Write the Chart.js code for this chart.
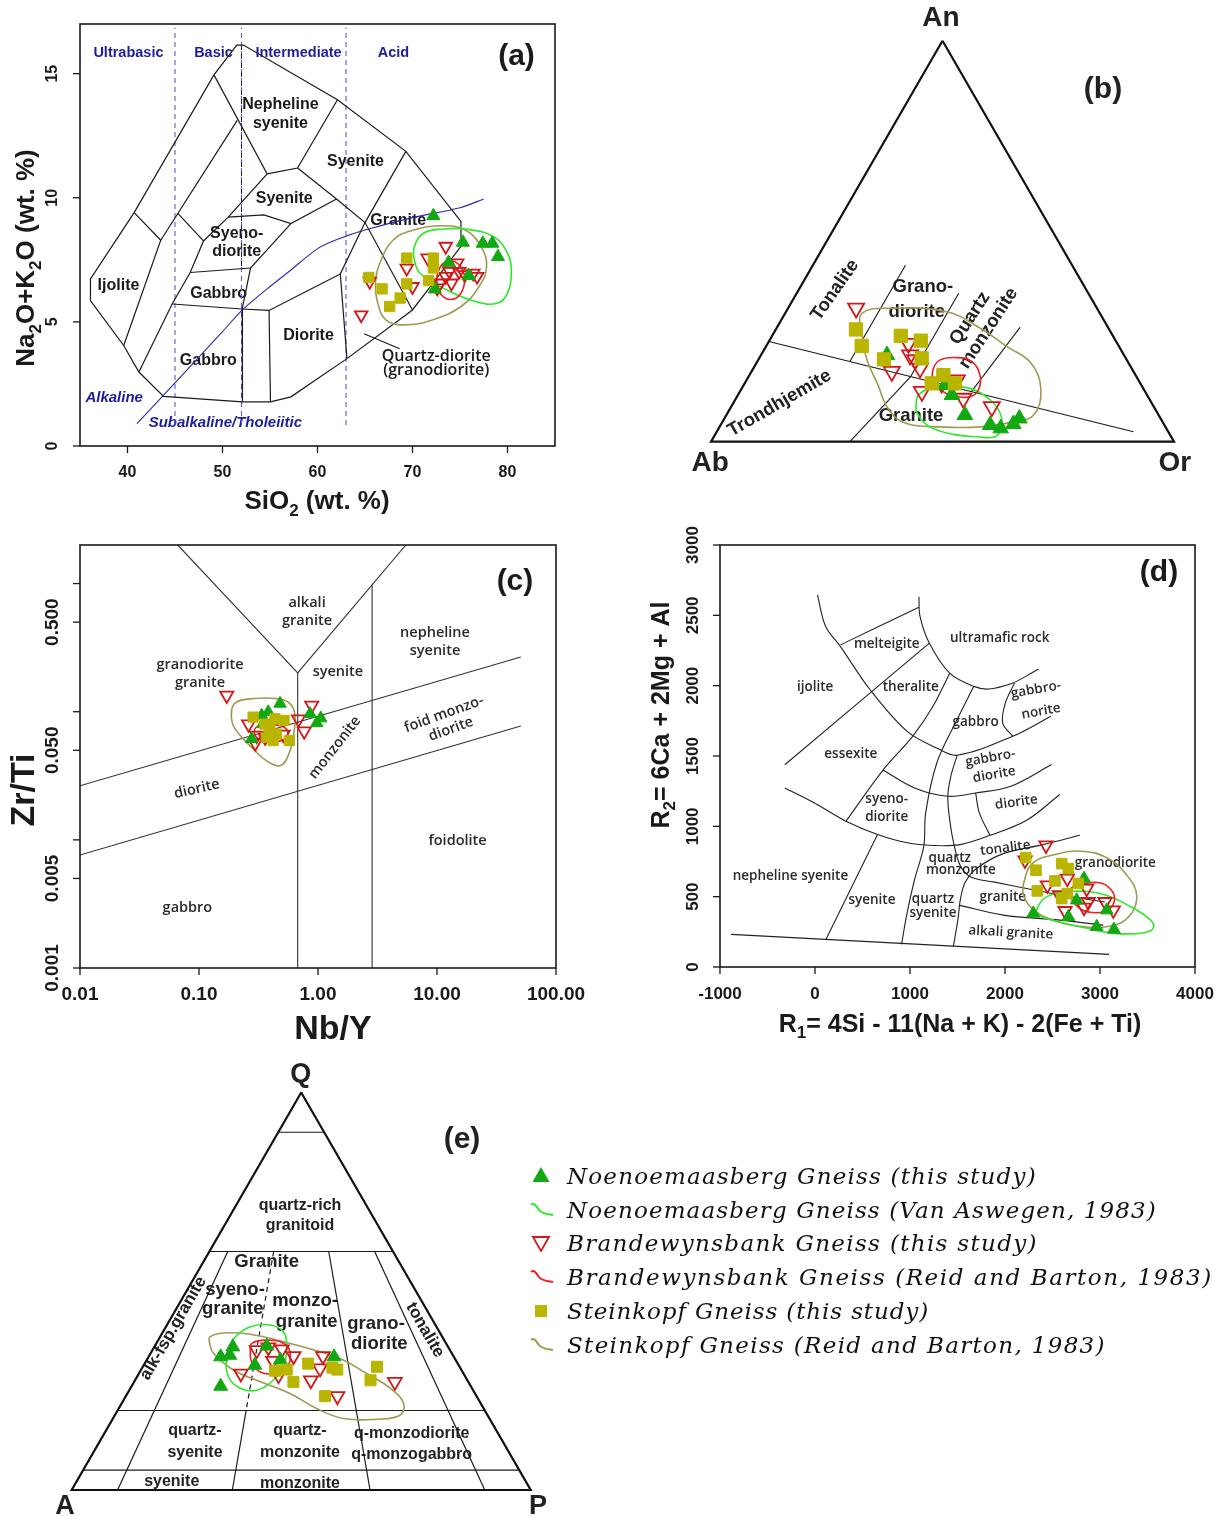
<!DOCTYPE html>
<html><head><meta charset="utf-8"><title>Geochemical classification diagrams</title>
<script src="https://cdn.jsdelivr.net/npm/chart.js@4.4.1/dist/chart.umd.min.js"></script>
<style>
html,body{margin:0;padding:0;background:#fff;}
body{width:1221px;height:1517px;position:relative;overflow:hidden;}
canvas{position:absolute;display:block;}
.lrow{position:absolute;left:528px;height:34px;width:690px;}
.lrow svg{position:absolute;left:0;top:0;}
.lrow span{position:absolute;left:39px;top:0;line-height:34px;white-space:nowrap;font-family:"DejaVu Serif",serif;font-style:italic;font-size:23px;color:#111;}
</style></head><body>
<canvas id="ca" width="600" height="520" style="left:0;top:0"></canvas>
<canvas id="cb" width="601" height="520" style="left:620px;top:0"></canvas>
<canvas id="cc" width="600" height="540" style="left:0;top:520px"></canvas>
<canvas id="cd" width="601" height="540" style="left:620px;top:520px"></canvas>
<canvas id="ce" width="560" height="457" style="left:0;top:1060px"></canvas>
<div id="legend">
 <div class="lrow" style="top:1159px"><svg width="30" height="34"><polygon points="13,8 21.5,23 4.5,23" fill="#12a812"/></svg><span data-w="470">Noenoemaasberg Gneiss (this study)</span></div>
 <div class="lrow" style="top:1193px"><svg width="30" height="34"><path d="M3,12 C6,9 8,13 11,17 C14,21 19,21 25,22" stroke="#2de82d" stroke-width="2" fill="none"/></svg><span data-w="590">Noenoemaasberg Gneiss (Van Aswegen, 1983)</span></div>
 <div class="lrow" style="top:1226px"><svg width="30" height="34"><polygon points="5,11 21,11 13,25" stroke="#d01818" stroke-width="1.8" fill="none"/></svg><span data-w="471">Brandewynsbank Gneiss (this study)</span></div>
 <div class="lrow" style="top:1260px"><svg width="30" height="34"><path d="M3,12 C6,9 8,13 11,17 C14,21 19,21 25,22" stroke="#ee2020" stroke-width="2" fill="none"/></svg><span data-w="646">Brandewynsbank Gneiss (Reid and Barton, 1983)</span></div>
 <div class="lrow" style="top:1294px"><svg width="30" height="34"><rect x="7" y="11" width="12" height="12" fill="#b9b500"/></svg><span data-w="362">Steinkopf Gneiss (this study)</span></div>
 <div class="lrow" style="top:1328px"><svg width="30" height="34"><path d="M3,12 C6,9 8,13 11,17 C14,21 19,21 25,22" stroke="#9f9a52" stroke-width="2" fill="none"/></svg><span data-w="539">Steinkopf Gneiss (Reid and Barton, 1983)</span></div>
</div>
<script>
// ================= DATA =================
// ---- (a) TAS: SiO2 vs Na2O+K2O (wt.%) ----
const aNoeSiO2 = [72.2, 75.3, 77.4, 78.4, 79.0, 73.8, 75.9, 72.35];
const aNoeAlk  = [9.27, 8.2, 8.16, 8.16, 7.62, 7.39, 6.86, 6.32];
const aBraSiO2 = [64.6, 65.5, 69.4, 70.0, 71.6, 73.5, 72.9, 73.9, 74.7, 74.9, 74.1, 75.5, 76.4, 76.8, 73.5, 72.6];
const aBraAlk  = [5.28, 6.63, 7.16, 6.42, 7.57, 8.04, 6.56, 7.03, 7.37, 7.03, 6.56, 6.9, 6.96, 6.83, 6.83, 6.36];
const aSteSiO2 = [65.4, 66.8, 67.6, 68.7, 69.4, 69.4, 71.7, 72.2, 72.2];
const aSteAlk  = [6.79, 6.33, 5.62, 5.96, 7.57, 6.53, 6.66, 7.57, 7.17];
const aEnvNoeSiO2 = [70.2, 71.2, 73.25, 75.5, 78.5, 80.0, 80.4, 80.0, 78.9, 76.6, 73.6, 70.8, 70.2];
const aEnvNoeAlk  = [8.04, 8.58, 8.74, 8.74, 8.44, 7.77, 7.10, 6.16, 5.75, 5.82, 6.29, 6.96, 7.5];
const aEnvBraSiO2 = [72.6, 73.2, 74.2, 75.1, 75.5, 75.0, 74.0, 73.0, 72.6];
const aEnvBraAlk  = [6.9, 7.35, 7.45, 7.2, 6.7, 6.1, 5.9, 6.1, 6.5];
const aEnvSteSiO2 = [66.5, 68.0, 70.2, 72.9, 75.5, 77.2, 77.8, 77.0, 75.1, 72.1, 69.1, 67.2, 66.3, 66.1];
const aEnvSteAlk  = [7.30, 8.31, 8.71, 8.87, 8.71, 8.04, 7.23, 6.42, 5.62, 5.08, 4.88, 5.08, 5.82, 6.56];
const aFieldLines = [
  [[36.1,5.86],[36.1,6.73],[40.7,9.40],[49.1,14.95],[51.5,16.15],[52.2,16.15],[62.1,13.95],[69.3,11.87],[75.1,9.05],[75.1,8.04],[70.0,5.48],[63.1,3.52],[57.2,1.98],[55.05,1.78],[52.1,1.78],[43.8,2.0],[41.2,2.98],[39.6,4.05],[36.1,5.86]],
  [[40.7,9.40],[43.5,8.29],[39.6,4.05]],
  [[43.5,8.29],[51.55,13.12]],
  [[41.2,2.98],[44.7,5.72],[46.6,6.99],[48.0,8.26],[50.6,9.22],[54.7,10.96],[49.1,14.95]],
  [[45.3,9.37],[48.0,8.26]],
  [[54.7,10.96],[57.9,11.2],[62.1,13.95]],
  [[57.9,11.2],[62.0,9.95],[65.0,9.0],[70.0,5.48]],
  [[69.3,11.87],[65.0,9.0],[62.4,6.93],[63.1,3.52]],
  [[50.6,9.22],[54.35,9.31],[57.2,8.96],[62.0,9.95]],
  [[57.2,8.96],[52.95,7.17],[52.07,5.52],[52.1,1.78]],
  [[46.6,6.99],[52.95,7.17]],
  [[44.7,5.72],[52.07,5.52],[54.9,5.46],[62.4,6.93]],
  [[54.9,5.46],[55.05,1.78]],
  [[64.9,4.52],[68.65,3.92]]
];
const aAlkLineSiO2 = [41.0, 43.8, 46.0, 48.0, 50.0, 52.2, 54.7, 57.0, 60.1, 62.4, 65.0, 70.0, 75.0, 77.5];
const aAlkLineAlk  = [0.9, 2.05, 2.96, 3.78, 4.61, 5.52, 6.33, 7.03, 7.97, 8.37, 8.7, 9.2, 9.6, 9.95];
const aSilicaDivides = [45, 52, 63];
const aXTicks = [40, 50, 60, 70, 80];
const aYTicks = [0, 5, 10, 15];

// ---- (b) An-Ab-Or (normative feldspar, %) ----
const bBraAn = [33.3, 17.5, 24.5, 21.6, 20.4, 18.3, 12.5, 14.6, 15.4, 10.8, 8.7];
const bBraOr = [14.7, 30.3, 30.4, 32.2, 33.9, 36.0, 39.3, 42.5, 45.4, 49.1, 56.3];
const bNoeAn = [21.6, 14.1, 11.65, 6.66, 4.16, 3.33, 4.4, 5.8];
const bNoeOr = [27.2, 43.5, 46.2, 51.5, 58.2, 60.9, 63.1, 63.7];
const bSteAn = [28.0, 23.9, 26.4, 25.2, 20.8, 20.55, 14.56, 16.6, 14.56];
const bSteOr = [17.3, 20.6, 27.8, 32.7, 35.1, 27.1, 40.4, 41.9, 45.4];
const bEnvSteAn = [32.0, 33.3, 32.4, 28.3, 23.7, 19.6, 12.9, 6.7, 5.0, 3.7, 3.7, 4.6, 7.9, 14.6, 20.4, 27.0];
const bEnvSteOr = [16.6, 22.5, 34.7, 44.0, 52.1, 59.3, 64.8, 66.4, 62.9, 56.3, 47.5, 39.8, 34.5, 28.6, 23.5, 19.1];
const bEnvBraAn = [18.3, 20.4, 21.0, 20.0, 16.6, 12.9, 11.2, 11.4, 12.5, 15.4];
const bEnvBraOr = [38.9, 39.3, 42.2, 46.3, 49.8, 51.3, 50.3, 47.0, 43.9, 40.3];
const bEnvNoeAn = [11.7, 13.3, 13.7, 13.3, 10.4, 7.1, 3.7, 1.25, 1.25, 1.7, 3.7, 7.1, 9.6];
const bEnvNoeOr = [39.0, 40.7, 44.8, 49.3, 55.1, 58.9, 60.9, 60.7, 56.8, 52.2, 45.4, 41.0, 39.5];
// field boundaries as [An, Or] pairs
const bFieldLines = [
  [[25, 0], [2.5, 90]],
  [[20, 20], [44, 20]],
  [[16.25, 35], [37, 35]],
  [[12.5, 50], [28.5, 52.5]],
  [[16.25, 35], [0, 30]]
];
const bOutline = [[100, 0], [0, 0], [0, 100], [100, 0]];

// ---- (c) Nb/Y vs Zr/Ti ----
const cBraNbY = [0.171, 0.261, 0.305, 0.297, 0.51, 0.885, 0.685, 0.766, 0.36];
const cBraZrTi = [0.134, 0.080, 0.0652, 0.0570, 0.0664, 0.112, 0.0873, 0.0705, 0.063];
const cNoeNbY = [0.48, 0.336, 0.382, 0.345, 0.857, 1.055, 0.976, 0.277];
const cNoeZrTi = [0.1157, 0.0935, 0.0995, 0.0805, 0.0964, 0.089, 0.0815, 0.0614];
const cSteNbY = [0.285, 0.435, 0.519, 0.395, 0.448, 0.368, 0.42, 0.574, 0.358];
const cSteZrTi = [0.0908, 0.0881, 0.0855, 0.0735, 0.067, 0.0631, 0.0595, 0.0595, 0.080];
const cEnvSteNbY = [0.188, 0.207, 0.285, 0.448, 0.582, 0.641, 0.62, 0.562, 0.48, 0.368, 0.285, 0.236, 0.194];
const cEnvSteZrTi = [0.1026, 0.119, 0.1265, 0.1265, 0.1157, 0.0935, 0.0652, 0.0454, 0.0379, 0.0415, 0.0513, 0.0614, 0.078];
const cEnvBraNbY = [0.30, 0.38, 0.50, 0.56, 0.50, 0.38, 0.30];
const cEnvBraZrTi = [0.075, 0.079, 0.077, 0.068, 0.060, 0.058, 0.064];
const cFieldLines = [
  [[0.0663, 2.0], [0.675, 0.201], [5.47, 2.0]],
  [[0.675, 0.201], [0.675, 0.001]],
  [[2.85, 0.977], [2.85, 0.001]],
  [[0.01, 0.0264], [50.6, 0.267]],
  [[0.01, 0.00762], [50.6, 0.0774]]
];
const cXTicks = [0.01, 0.1, 1, 10, 100];
const cXTickLabels = ['0.01', '0.10', '1.00', '10.00', '100.00'];
const cYTicks = [0.001, 0.005, 0.01, 0.05, 0.1, 0.5, 1];
const cYTickLabels = [[0.001, '0.001'], [0.005, '0.005'], [0.05, '0.050'], [0.5, '0.500']];

// ---- (d) R1-R2 ----
const dBraR1 = [2432, 2211, 2656, 2446, 2572, 2860, 2877, 2832, 3053, 3140, 2632];
const dBraR2 = [865, 759, 629, 582, 511, 558, 463, 423, 463, 404, 399];
const dNoeR1 = [2832, 2755, 3071, 2298, 2667, 2965, 3147];
const dNoeR2 = [629, 475, 404, 381, 357, 286, 267];
const dSteR1 = [2218, 2326, 2597, 2667, 2526, 2772, 2340, 2656, 2597];
const dSteR2 = [778, 688, 735, 700, 612, 594, 541, 522, 487];
const dEnvSteR1 = [2198, 2295, 2530, 2802, 3075, 3290, 3387, 3310, 3114, 2763, 2490, 2295, 2198];
const dEnvSteR2 = [599, 740, 800, 823, 776, 646, 504, 362, 291, 291, 338, 409, 504];
const dEnvNoeR1 = [2334, 2451, 2724, 3036, 3310, 3524, 3563, 3465, 3153, 2841, 2530, 2373];
const dEnvNoeR2 = [409, 504, 539, 516, 433, 338, 279, 244, 239, 279, 327, 362];
const dEnvBraR1 = [2685, 2802, 2997, 3114, 3153, 3095, 2958, 2802, 2705];
const dEnvBraR2 = [551, 587, 599, 551, 480, 409, 386, 409, 480];
const dFieldLines = [
  [[26,2645],[112,2420],[268,2278],[580,1971],[970,1675],[1282,1557],[1496,1505],[2081,1640],[2483,1782]],
  [[1094,2633],[1106,2491],[1204,2302],[1418,2089],[1672,1995],[1828,1976],[2062,2013],[2218,2066],[2354,2118]],
  [[268,2290],[1094,2558]],
  [[1204,2302],[-318,1438]],
  [[1418,2089],[1242,1853],[1028,1640],[716,1400],[326,1036]],
  [[1672,1995],[1477,1734],[1282,1450],[1165,1096],[1145,859],[1048,622],[970,386],[911,161]],
  [[2100,2018],[2003,1876],[1976,1734],[2081,1640]],
  [[1496,1505],[1430,1356],[1398,1214],[1418,1048],[1460,880],[1530,720],[1640,640],[1877,605],[2228,558],[2579,511],[2877,480],[3050,462]],
  [[716,1400],[1048,1273],[1398,1214],[1691,1237],[2062,1285],[2490,1439]],
  [[-318,1273],[-6,1166],[326,1036],[658,942],[970,883],[1242,864],[1526,870],[1842,936],[2228,1043],[2576,1226]],
  [[1691,1237],[1730,1096],[1842,936]],
  [[2789,936],[2400,870],[1982,806],[1700,700],[1580,600],[1530,480],[1505,340],[1457,149]],
  [[1515,440],[1982,369],[2579,333],[3035,298]],
  [[658,942],[112,192]],
  [[-883,232],[3095,90]]
];
const dXTicks = [-1000, 0, 1000, 2000, 3000, 4000];
const dYTicks = [0, 500, 1000, 1500, 2000, 2500, 3000];

// ---- (e) QAP (%) ----
const eNoeQ = [36.0, 33.5, 33.9, 36.2, 31.4, 32.7, 33.5, 26.1];
const eNoeP = [17.1, 15.7, 17.5, 24.4, 24.2, 29.1, 40.4, 19.4];
const eBraQ = [35.2, 35.9, 35.4, 33.7, 33.7, 29.3, 32.5, 28.9, 27.6, 30.6, 23.6, 27.2];
const eBraP = [22.7, 24.9, 28.1, 31.5, 37.9, 22.2, 27.6, 30.6, 38.3, 38.8, 46.1, 56.8];
const eSteQ = [30.0, 30.3, 27.2, 31.8, 30.8, 30.3, 23.6, 27.6, 31.0];
const eSteP = [29.3, 31.7, 34.7, 35.6, 41.4, 42.7, 43.4, 51.3, 51.0];
const eEnvNoeQ = [38.1, 41.0, 41.5, 39.8, 36.4, 31.0, 27.6, 25.1, 25.6, 28.5, 33.5, 36.9];
const eEnvNoeP = [16.2, 18.3, 22.5, 26.2, 28.6, 30.6, 30.1, 27.7, 23.9, 19.9, 17.0, 16.4];
const eEnvSteQ = [38.5, 39.5, 39.2, 37.3, 35.0, 32.7, 29.3, 25.6, 21.8, 18.8, 17.8, 18.0, 20.5, 24.3, 27.6, 30.2, 34.4, 36.9];
const eEnvSteP = [10.9, 13.3, 19.3, 27.5, 35.9, 42.8, 49.6, 56.6, 61.4, 62.1, 57.6, 50.2, 43.1, 35.4, 26.5, 20.1, 13.7, 11.6];
const eEnvBraQ = [36.9, 37.7, 36.9, 34.4, 31.0, 29.3, 29.7, 32.2, 35.2];
const eEnvBraP = [20.8, 23.6, 27.7, 30.4, 31.4, 29.3, 26.2, 23.1, 21.3];
// field boundaries as [Q, P] pairs
const eFieldLines = [
  [[90, 0], [90, 10]],
  [[60, 0], [60, 40]],
  [[20, 0], [20, 80]],
  [[5, 0], [5, 95]],
  [[60, 4], [0, 10]],
  [[20, 28], [0, 35]],
  [[60, 26], [0, 65]],
  [[60, 36], [0, 90]]
];
const eDashedLines = [[[60, 14], [20, 28]]];
const eOutline = [[100, 0], [0, 0], [0, 100], [100, 0]];

// ================= STYLE & HELPERS =================
const GREEN = '#12a812', RED = '#d01818', YEL = '#b9b500';
const ENV_G = '#2de82d', ENV_R = '#ee2020', ENV_O = '#9f9a52';
const INK = '#1a1a1a', BLUE = '#1e1e9c';
const SANS = '"Liberation Sans", Arial, sans-serif';
const SANS2 = '"Open Sans", "Liberation Sans", sans-serif';
const R3 = Math.sqrt(3) / 2;

const xy = (xs, ys) => xs.map((x, i) => ({x, y: ys[i]}));
const pairs = arr => arr.map(p => ({x: p[0], y: p[1]}));
// ternary: top apex, right apex fractions -> cartesian unit triangle
function tern(top, right) { return {x: (right + top / 2) / 100, y: top / 100 * R3}; }
const ternPts = (tops, rights) => tops.map((t, i) => tern(t, rights[i]));
const ternPairs = arr => arr.map(p => tern(p[0], p[1]));

function lineDS(points, extra) {
  return Object.assign({data: points, showLine: true, borderColor: INK, borderWidth: 1.2,
    pointRadius: 0, pointHoverRadius: 0, fill: false, tension: 0, order: 30}, extra || {});
}
function envDS(points, color) {
  const n = points.length;
  const data = [points[n - 1], ...points, points[0], points[1]];
  const last = data.length - 1;
  return {data, showLine: true, borderColor: color, borderWidth: 1.6, pointRadius: 0, pointHoverRadius: 0,
    fill: false, tension: 0.42, order: 10,
    segment: {borderColor: c => (c.p0DataIndex === 0 || c.p1DataIndex === last) ? 'rgba(0,0,0,0)' : color}};
}
function markDS(points, kind, r, sq) {
  const base = {data: points, showLine: false, pointRadius: r, pointHoverRadius: r};
  if (kind === 'noe') return Object.assign(base, {pointStyle: 'triangle', pointBackgroundColor: GREEN,
    pointBorderColor: GREEN, pointBorderWidth: 1, borderColor: GREEN, order: 3});
  if (kind === 'bra') return Object.assign(base, {pointStyle: 'triangle', pointRotation: 180,
    pointBackgroundColor: 'rgba(255,255,255,0)', pointBorderColor: RED, pointBorderWidth: 1.8, borderColor: RED, order: 4});
  return Object.assign(base, {pointStyle: 'rect', pointRadius: sq, pointHoverRadius: sq, pointBackgroundColor: YEL,
    pointBorderColor: YEL, pointBorderWidth: 1, borderColor: YEL, order: 2});
}

function drawLabels(chart, labels, def) {
  const {ctx, scales: {x, y}} = chart;
  labels.forEach(l0 => {
    const L = Object.assign({}, def, l0);
    ctx.save();
    ctx.translate(x.getPixelForValue(L.x), y.getPixelForValue(L.y));
    if (L.rot) ctx.rotate(L.rot * Math.PI / 180);
    ctx.font = `${L.style || 'normal'} ${L.weight || 'bold'} ${L.size}px ${L.family}`;
    ctx.fillStyle = L.color; ctx.textAlign = 'center'; ctx.textBaseline = 'middle';
    ctx.fillText(L.t, 0, 0);
    ctx.restore();
  });
}
// rich text with subscripts: parts beginning with '_' are subscripts
function drawRich(ctx, parts, cx, cy, size, rot) {
  const base = `bold ${size}px ${SANS}`, sub = `bold ${Math.round(size * 0.66)}px ${SANS}`;
  ctx.save(); ctx.translate(cx, cy); if (rot) ctx.rotate(rot);
  let w = 0;
  const ms = parts.map(p => { const s = p[0] === '_'; const t = s ? p.slice(1) : p; ctx.font = s ? sub : base; const m = ctx.measureText(t).width; w += m; return {t, s, m}; });
  let x = -w / 2; ctx.fillStyle = INK; ctx.textAlign = 'left'; ctx.textBaseline = 'alphabetic';
  ms.forEach(p => { ctx.font = p.s ? sub : base; ctx.fillText(p.t, x, size * 0.36 + (p.s ? size * 0.24 : 0)); x += p.m; });
  ctx.restore();
}
function drawFrame(chart, cfg) {
  const {ctx, chartArea: a, scales: {x, y}} = chart;
  ctx.save();
  ctx.strokeStyle = INK; ctx.lineWidth = 1.6;
  ctx.strokeRect(a.left, a.top, a.right - a.left, a.bottom - a.top);
  ctx.lineWidth = 1.3;
  cfg.xTicks.forEach(v => { const p = x.getPixelForValue(v); ctx.beginPath(); ctx.moveTo(p, a.bottom); ctx.lineTo(p, a.bottom + 7); ctx.stroke(); });
  cfg.yTicks.forEach(v => { const p = y.getPixelForValue(v); ctx.beginPath(); ctx.moveTo(a.left, p); ctx.lineTo(a.left - 7, p); ctx.stroke(); });
  ctx.fillStyle = INK; ctx.textAlign = 'center'; ctx.textBaseline = 'middle';
  ctx.font = `bold ${cfg.tickSize}px ${SANS}`;
  cfg.xLabels.forEach(([v, t]) => ctx.fillText(t, x.getPixelForValue(v), a.bottom + 27));
  cfg.yLabels.forEach(([v, t]) => { ctx.save(); ctx.translate(a.left - 27, y.getPixelForValue(v)); ctx.rotate(-Math.PI / 2); ctx.fillText(t, 0, 0); ctx.restore(); });
  drawRich(ctx, cfg.xTitle, cfg.xTitlePos[0], cfg.xTitlePos[1], cfg.titleSize, 0);
  drawRich(ctx, cfg.yTitle, cfg.yTitlePos[0], cfg.yTitlePos[1], cfg.titleSize, -Math.PI / 2);
  ctx.restore();
}
function makeChart(id, datasets, scales, padding, before, after) {
  return new Chart(document.getElementById(id), {
    type: 'line',
    data: {datasets},
    options: {responsive: false, animation: false, devicePixelRatio: 1, events: [],
      layout: {padding, autoPadding: false}, scales,
      plugins: {legend: {display: false}, tooltip: {enabled: false}}},
    plugins: [{id: 'deco' + id, beforeDatasetsDraw: c => before && before(c), afterDatasetsDraw: c => after && after(c)}]
  });
}
const hidden = (type, min, max) => ({type, min, max, display: false});

// ================= PANEL (a) =================
(function () {
  const ds = [];
  aSilicaDivides.forEach(v => ds.push(lineDS(pairs([[v, 0.85], [v, 16.85]]), {borderColor: '#5a5ad8', borderWidth: 1.1, borderDash: [5, 4], order: 40})));
  ds.push(lineDS(pairs([[52, 16.15], [52, 7.1]]), {borderColor: '#222', borderWidth: 1, borderDash: [5, 4], order: 35}));
  aFieldLines.forEach(l => ds.push(lineDS(pairs(l))));
  ds.push(lineDS(xy(aAlkLineSiO2, aAlkLineAlk), {borderColor: '#2a2aa8', borderWidth: 1.1, tension: 0.3}));
  ds.push(envDS(xy(aEnvBraSiO2, aEnvBraAlk), ENV_R));
  ds.push(envDS(xy(aEnvNoeSiO2, aEnvNoeAlk), ENV_G));
  ds.push(envDS(xy(aEnvSteSiO2, aEnvSteAlk), ENV_O));
  ds.push(markDS(xy(aBraSiO2, aBraAlk), 'bra', 7.3));
  ds.push(markDS(xy(aNoeSiO2, aNoeAlk), 'noe', 7.6));
  ds.push(markDS(xy(aSteSiO2, aSteAlk), 'ste', 0, 7.3));
  const labels = [
    {t: 'Ultrabasic', x: 40.1, y: 15.84, size: 14.5, color: BLUE},
    {t: 'Basic', x: 49.05, y: 15.84, size: 14.5, color: BLUE},
    {t: 'Intermediate', x: 58.0, y: 15.84, size: 14.5, color: BLUE},
    {t: 'Acid', x: 68.0, y: 15.84, size: 14.5, color: BLUE},
    {t: 'Nepheline', x: 56.1, y: 13.76}, {t: 'syenite', x: 56.1, y: 13.0},
    {t: 'Syenite', x: 64.0, y: 11.47}, {t: 'Syenite', x: 56.5, y: 9.95},
    {t: 'Syeno-', x: 51.5, y: 8.54}, {t: 'diorite', x: 51.5, y: 7.82},
    {t: 'Granite', x: 68.5, y: 9.07}, {t: 'Ijolite', x: 39.05, y: 6.46},
    {t: 'Gabbro', x: 49.6, y: 6.14}, {t: 'Diorite', x: 59.05, y: 4.45}, {t: 'Gabbro', x: 48.5, y: 3.45},
    {t: 'Quartz-diorite', x: 72.5, y: 3.62, weight: '600', size: 16, family: SANS2},
    {t: '(granodiorite)', x: 72.5, y: 3.05, weight: '600', size: 16, family: SANS2},
    {t: 'Alkaline', x: 38.6, y: 1.93, style: 'italic', color: BLUE, size: 15},
    {t: 'Subalkaline/Tholeiitic', x: 50.3, y: 0.92, style: 'italic', color: BLUE, size: 15},
    {t: '(a)', x: 80.95, y: 15.68, size: 30}
  ];
  makeChart('ca', ds, {x: hidden('linear', 35, 85), y: hidden('linear', 0, 17)},
    {left: 80, top: 24, right: 45, bottom: 74},
    c => drawLabels(c, labels, {size: 16, family: SANS, color: INK}),
    c => drawFrame(c, {xTicks: aXTicks, yTicks: aYTicks, tickSize: 16,
      xLabels: aXTicks.map(v => [v, String(v)]), yLabels: aYTicks.map(v => [v, String(v)]),
      xTitle: ['SiO', '_2', ' (wt. %)'], yTitle: ['Na', '_2', 'O+K', '_2', 'O (wt. %)'], titleSize: 26,
      xTitlePos: [317, 500], yTitlePos: [25, 258]}));
})();

// ================= PANEL (b) =================
(function () {
  const ds = [];
  ds.push(lineDS(ternPairs(bOutline), {borderWidth: 2.2, borderColor: '#111'}));
  bFieldLines.forEach(l => ds.push(lineDS(ternPairs(l), {borderWidth: 1.1})));
  ds.push(envDS(ternPts(bEnvBraAn, bEnvBraOr), ENV_R));
  ds.push(envDS(ternPts(bEnvNoeAn, bEnvNoeOr), ENV_G));
  ds.push(envDS(ternPts(bEnvSteAn, bEnvSteOr), ENV_O));
  ds.push(markDS(ternPts(bBraAn, bBraOr), 'bra', 9.3));
  ds.push(markDS(ternPts(bNoeAn, bNoeOr), 'noe', 9));
  ds.push(markDS(ternPts(bSteAn, bSteOr), 'ste', 0, 9.4));
  const labels = [
    {t: 'An', x: 0.4968, y: 0.9151, size: 28}, {t: 'Ab', x: -0.002, y: -0.046, size: 28}, {t: 'Or', x: 1.002, y: -0.046, size: 28},
    {t: '(b)', x: 0.8467, y: 0.7596, size: 30},
    {t: 'Tonalite', x: 0.2678, y: 0.3276, rot: -55},
    {t: 'Grano-', x: 0.4575, y: 0.3335}, {t: 'diorite', x: 0.4443, y: 0.2808},
    {t: 'Quartz', x: 0.5594, y: 0.2665, rot: -57}, {t: 'monzonite', x: 0.5994, y: 0.2449, rot: -57},
    {t: 'Trondhjemite', x: 0.148, y: 0.0829, rot: -30},
    {t: 'Granite', x: 0.432, y: 0.0555}
  ];
  makeChart('cb', ds, {x: hidden('linear', -0.19654, 1.10151), y: hidden('linear', -0.16911, 0.95400)},
    {left: 0, top: 0, right: 0, bottom: 0},
    c => drawLabels(c, labels, {size: 18.5, family: SANS, color: '#222'}), null);
})();

// ================= PANEL (c) =================
(function () {
  const ds = [];
  cFieldLines.forEach(l => ds.push(lineDS(pairs(l), {borderWidth: 1.1, borderColor: '#333'})));
  ds.push(envDS(xy(cEnvBraNbY, cEnvBraZrTi), ENV_R));
  ds.push(envDS(xy(cEnvSteNbY, cEnvSteZrTi), ENV_O));
  ds.push(markDS(xy(cBraNbY, cBraZrTi), 'bra', 7.6));
  ds.push(markDS(xy(cNoeNbY, cNoeZrTi), 'noe', 7.2));
  ds.push(markDS(xy(cSteNbY, cSteZrTi), 'ste', 0, 7.2));
  const labels = [
    {t: 'alkali', x: 0.809, y: 0.703}, {t: 'granite', x: 0.809, y: 0.508},
    {t: 'nepheline', x: 9.62, y: 0.409}, {t: 'syenite', x: 9.62, y: 0.296},
    {t: 'granodiorite', x: 0.1019, y: 0.234}, {t: 'granite', x: 0.1019, y: 0.169},
    {t: 'syenite', x: 1.47, y: 0.206},
    {t: 'foid monzo-', x: 11.45, y: 0.0955, rot: -20}, {t: 'diorite', x: 13.1, y: 0.073, rot: -20},
    {t: 'monzonite', x: 1.387, y: 0.0525, rot: -52},
    {t: 'diorite', x: 0.096, y: 0.0249, rot: -13},
    {t: 'foidolite', x: 14.9, y: 0.00986}, {t: 'gabbro', x: 0.0799, y: 0.00294},
    {t: '(c)', x: 45.2, y: 1.04, size: 30, family: SANS, weight: 'bold', color: INK}
  ];
  makeChart('cc', ds, {x: hidden('logarithmic', 0.01, 100), y: hidden('logarithmic', 0.001, 2.0)},
    {left: 80, top: 25, right: 44, bottom: 92},
    c => drawLabels(c, labels, {size: 14.5, family: SANS2, weight: '600', color: '#2a2a2a'}),
    c => drawFrame(c, {xTicks: cXTicks, yTicks: cYTicks, tickSize: 19,
      xLabels: cXTicks.map((v, i) => [v, cXTickLabels[i]]), yLabels: cYTickLabels,
      xTitle: ['Nb/Y'], yTitle: ['Zr/Ti'], titleSize: 34, xTitlePos: [333, 507], yTitlePos: [22, 270]}));
})();

// ================= PANEL (d) =================
(function () {
  const ds = [];
  dFieldLines.forEach(l => ds.push(lineDS(pairs(l), {borderWidth: 1.1, borderColor: '#222', tension: 0.35})));
  ds.push(envDS(xy(dEnvBraR1, dEnvBraR2), ENV_R));
  ds.push(envDS(xy(dEnvNoeR1, dEnvNoeR2), ENV_G));
  ds.push(envDS(xy(dEnvSteR1, dEnvSteR2), ENV_O));
  ds.push(markDS(xy(dBraR1, dBraR2), 'bra', 7.7));
  ds.push(markDS(xy(dNoeR1, dNoeR2), 'noe', 7.4));
  ds.push(markDS(xy(dSteR1, dSteR2), 'ste', 0, 7.5));
  const labels = [
    {t: 'melteigite', x: 755, y: 2298}, {t: 'ultramafic rock', x: 1944, y: 2338},
    {t: 'ijolite', x: 2, y: 1990}, {t: 'theralite', x: 1008, y: 1990},
    {t: 'gabbro-', x: 2326, y: 1972, rot: -10}, {t: 'norite', x: 2379, y: 1817, rot: -10},
    {t: 'gabbro', x: 1691, y: 1739}, {t: 'essexite', x: 377, y: 1516},
    {t: 'gabbro-', x: 1847, y: 1486, rot: -10}, {t: 'diorite', x: 1886, y: 1367, rot: -10},
    {t: 'syeno-', x: 755, y: 1195}, {t: 'diorite', x: 755, y: 1067},
    {t: 'diorite', x: 2120, y: 1171, rot: -8}, {t: 'tonalite', x: 2003, y: 845, rot: -7},
    {t: 'quartz', x: 1418, y: 776}, {t: 'monzonite', x: 1535, y: 688},
    {t: 'granodiorite', x: 3161, y: 740}, {t: 'nepheline syenite', x: -259, y: 645},
    {t: 'syenite', x: 599, y: 475}, {t: 'quartz', x: 1242, y: 485}, {t: 'syenite', x: 1242, y: 381},
    {t: 'granite', x: 1976, y: 499}, {t: 'alkali granite', x: 2061, y: 244, rot: 3},
    {t: '(d)', x: 3621, y: 2801, size: 30, family: SANS, weight: 'bold', color: INK}
  ];
  makeChart('cd', ds, {x: hidden('linear', -1000, 4000), y: hidden('linear', 0, 3000)},
    {left: 100, top: 25, right: 26, bottom: 93},
    c => drawLabels(c, labels, {size: 13.5, family: SANS2, weight: '600', color: '#2a2a2a'}),
    c => drawFrame(c, {xTicks: dXTicks, yTicks: dYTicks, tickSize: 17,
      xLabels: dXTicks.map(v => [v, String(v)]), yLabels: dYTicks.map(v => [v, String(v)]),
      xTitle: ['R', '_1', '= 4Si - 11(Na + K) - 2(Fe + Ti)'], yTitle: ['R', '_2', '= 6Ca + 2Mg + Al'], titleSize: 25,
      xTitlePos: [340, 503], yTitlePos: [40, 195]}));
})();

// ================= PANEL (e) =================
(function () {
  const ds = [];
  ds.push(lineDS(ternPairs(eOutline), {borderWidth: 2.2, borderColor: '#111'}));
  eFieldLines.forEach(l => ds.push(lineDS(ternPairs(l), {borderWidth: 1.2})));
  eDashedLines.forEach(l => ds.push(lineDS(ternPairs(l), {borderWidth: 1.2, borderDash: [5, 4]})));
  ds.push(envDS(ternPts(eEnvBraQ, eEnvBraP), ENV_R));
  ds.push(envDS(ternPts(eEnvNoeQ, eEnvNoeP), ENV_G));
  ds.push(envDS(ternPts(eEnvSteQ, eEnvSteP), ENV_O));
  ds.push(markDS(ternPts(eBraQ, eBraP), 'bra', 8));
  ds.push(markDS(ternPts(eNoeQ, eNoeP), 'noe', 8));
  ds.push(markDS(ternPts(eSteQ, eSteP), 'ste', 0, 7.8));
  const labels = [
    {t: 'Q', x: 0.4989, y: 0.9041, size: 27}, {t: 'A', x: -0.0146, y: -0.037, size: 27}, {t: 'P', x: 1.0159, y: -0.037, size: 27},
    {t: '(e)', x: 0.8503, y: 0.7625, size: 30},
    {t: 'quartz-rich', x: 0.4974, y: 0.6194}, {t: 'granitoid', x: 0.4974, y: 0.5758},
    {t: 'Granite', x: 0.4248, y: 0.4961, size: 18.5},
    {t: 'syeno-', x: 0.3558, y: 0.4357, size: 18.5}, {t: 'granite', x: 0.3508, y: 0.3937, size: 18.5},
    {t: 'monzo-', x: 0.5083, y: 0.4124, size: 18.5}, {t: 'granite', x: 0.512, y: 0.3667, size: 18.5},
    {t: 'grano-', x: 0.663, y: 0.3617, size: 18.5}, {t: 'diorite', x: 0.6702, y: 0.3181, size: 18.5},
    {t: 'alk-fsp.granite', x: 0.2214, y: 0.3523, rot: -60, size: 17},
    {t: 'tonalite', x: 0.7697, y: 0.3486, rot: 60, size: 17},
    {t: 'quartz-', x: 0.2686, y: 0.1285}, {t: 'syenite', x: 0.2686, y: 0.0821},
    {t: 'quartz-', x: 0.4974, y: 0.1285}, {t: 'monzonite', x: 0.4974, y: 0.0821},
    {t: 'q-monzodiorite', x: 0.7407, y: 0.122}, {t: 'q-monzogabbro', x: 0.7407, y: 0.0778},
    {t: 'syenite', x: 0.2179, y: 0.0181}, {t: 'monzonite', x: 0.4974, y: 0.0131}
  ];
  makeChart('ce', ds, {x: hidden('linear', -0.15621, 1.06383), y: hidden('linear', -0.05882, 0.93682)},
    {left: 0, top: 0, right: 0, bottom: 0},
    c => drawLabels(c, labels, {size: 16, family: SANS, color: '#222'}), null);
})();

// ================= legend text fitting =================
document.querySelectorAll('.lrow span').forEach(el => {
  const target = +el.dataset.w;
  const w = el.getBoundingClientRect().width;
  const n = el.textContent.length;
  el.style.letterSpacing = ((target - w) / n).toFixed(2) + 'px';
});
</script>
</body></html>
